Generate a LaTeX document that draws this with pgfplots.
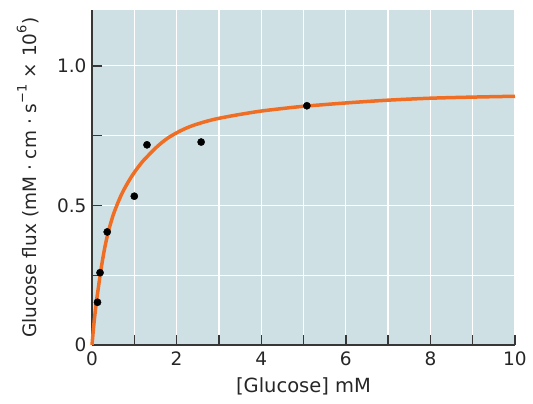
\documentclass[border=0pt]{standalone}
\usepackage{pgfplots}
\pgfplotsset{compat=1.18}
\usepackage{fontspec}
\setmainfont{DejaVu Sans}
\definecolor{bg}{RGB}{207,224,228}
\definecolor{curvec}{RGB}{240,110,35}
\definecolor{axc}{RGB}{55,55,55}
\begin{document}
\begin{tikzpicture}
\begin{axis}[
  scale only axis, width=423pt, height=335pt,
  xmin=0, xmax=10, ymin=0, ymax=1.2,
  axis lines=left, axis line style={-, draw=axc, line width=1.6pt},
  tick align=inside, major tick length=10pt,
  tick style={draw=axc, line width=1.4pt},
  xtick={0,1,2,3,4,5,6,7,8,9,10}, xticklabels={0,,2,,4,,6,,8,,10},
  ytick={0,0.25,0.5,0.75,1.0}, yticklabels={0,,0.5,,1.0},
  grid=major, grid style={white, line width=1.3pt},
  axis background/.style={fill=bg},
  tick label style={font=\fontsize{18.5}{20}\selectfont, text=black!85},
  xticklabel style={yshift=-3pt},
  yticklabel style={xshift=-2pt},
  label style={text=black!85},
  xlabel={[Glucose] m$\mathrm{M}$},
  ylabel={Glucose flux (m$\mathrm{M}$ · cm · s\textsuperscript{−1} × 10\textsuperscript{6})},
  xlabel style={font=\fontsize{19.5}{21}\selectfont, at={(axis description cs:0.5,-0.1224)}, anchor=center},
  ylabel style={font=\fontsize{18.5}{20}\selectfont, at={(axis description cs:-0.1513,0.5)}, anchor=center},
  clip=false,
]
\addplot[curvec, line width=3.5pt, smooth] coordinates {
  (0,0) (0.025,0.043) (0.05,0.083) (0.1,0.15) (0.15,0.205) (0.2,0.258)
  (0.25,0.305) (0.3,0.347) (0.35,0.383) (0.4,0.414) (0.5,0.465)
  (0.6,0.505) (0.7,0.54) (0.8,0.569) (0.9,0.595) (1.0,0.618)
  (1.1,0.639) (1.2,0.658) (1.35,0.682) (1.5,0.705) (1.65,0.725)
  (1.8,0.742) (2.0,0.760) (2.2,0.775) (2.4,0.787) (2.7,0.801)
  (3.0,0.812) (3.5,0.826) (4.0,0.838) (4.5,0.847) (5.0,0.855)
  (6.0,0.867) (7.0,0.877) (8.0,0.884) (9.0,0.888) (10,0.891)
};
\addplot[only marks, mark=*, mark size=3.6pt, black] coordinates {
  (0.13,0.153) (0.19,0.259) (0.36,0.405) (1.0,0.533)
  (1.3,0.717) (2.58,0.727) (5.08,0.857)
};
\coordinate (O) at (rel axis cs:0,0);
\coordinate (T) at (rel axis cs:1,1);
\end{axis}
\pgfresetboundingbox
\path (O) ++(-92pt,-59pt) coordinate (A);
\path (T) ++(18pt,10pt) coordinate (B);
\path[use as bounding box] (A) rectangle (B);
\end{tikzpicture}
\end{document}
